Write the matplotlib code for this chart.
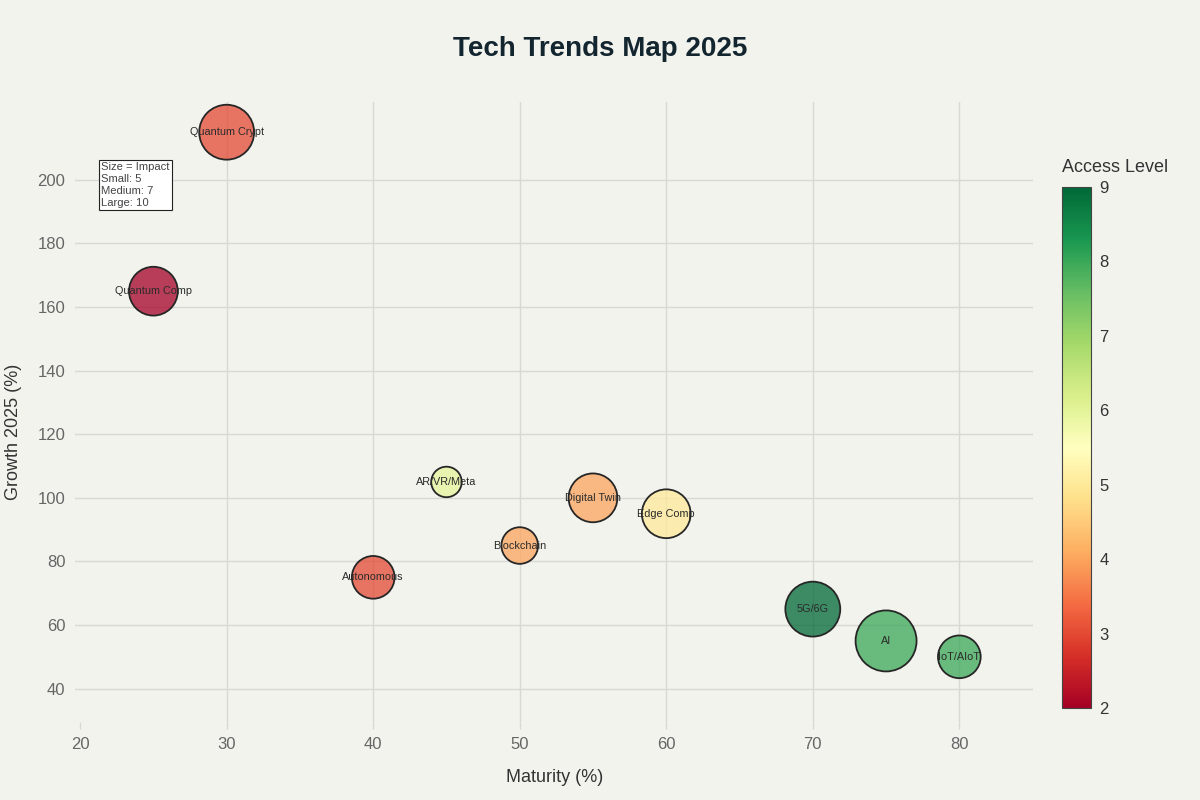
import matplotlib

matplotlib.use("Agg")
import matplotlib.pyplot as plt
from matplotlib import cm, colors as mcolors

# ── Data ──────────────────────────────────────────────────────
techs = ["Quantum Crypt", "Quantum Comp", "AR/VR/Meta", "Digital Twin", "Edge Comp",
         "Blockchain", "Autonomous", "5G/6G", "AI", "IoT/AIoT"]
maturity = [30, 25, 45, 55, 60, 50, 40, 70, 75, 80]
growth = [215, 165, 105, 100, 95, 85, 75, 65, 55, 50]
access = [3, 2, 6, 4, 5, 4, 3, 9, 8, 8]
impact = [9, 8, 5, 8, 8, 6, 7, 9, 10, 7]

# ── Styling ───────────────────────────────────────────────────
BG = "#f3f3ee"
GRID = "#d9d9d4"
TICK = "#666666"

plt.rcParams.update(
    {
        "font.family": ["Liberation Sans", "DejaVu Sans"],
        "figure.facecolor": BG,
        "axes.facecolor": BG,
    }
)

fig = plt.figure(figsize=(12, 8), dpi=100)
ax = fig.add_axes([0.0625, 0.0975, 0.798, 0.775])

norm = mcolors.Normalize(vmin=2, vmax=9)
cmap = plt.get_cmap("RdYlGn")

# translucent fill, solid outline
face = cmap(norm(access))
face[:, 3] = 0.75

# bubble diameter ~6.1 px per impact unit -> area in pt^2
sizes = [(6.1 * v * 0.72) ** 2 for v in impact]
ax.scatter(
    maturity, growth, s=sizes, facecolors=face,
    edgecolors="#262626", linewidths=1.3, zorder=3,
)
for name, x, y in zip(techs, maturity, growth):
    ax.text(x, y, name, ha="center", va="center", fontsize=7.8,
            color="#2a2a2a", zorder=4)

ax.set_xlim(19.65, 85)
ax.set_ylim(29.5, 224.5)
ax.set_xticks([20, 30, 40, 50, 60, 70, 80])
ax.set_yticks([40, 60, 80, 100, 120, 140, 160, 180, 200])
ax.grid(True, color=GRID, linewidth=1, zorder=0)
ax.xaxis.get_gridlines()[0].set_visible(False)
for s in ax.spines.values():
    s.set_visible(False)
ax.tick_params(axis="x", colors=GRID, labelcolor=TICK, labelsize=12, length=5, width=1, pad=6)
ax.tick_params(axis="y", colors=GRID, labelcolor=TICK, labelsize=12, length=0, pad=7)

fig.text(555 / 1200, 1 - 778 / 800, "Maturity (%)", ha="center", va="center",
         fontsize=13, color="#333333")
fig.text(14 / 1200, 1 - 432 / 800, "Growth 2025 (%)", ha="center", va="center",
         rotation=90, fontsize=13, color="#333333")

fig.text(0.5, 1 - 49 / 800, "Tech Trends Map 2025", ha="center", va="center",
         fontsize=20, fontweight="bold", color="#13252f")

# size legend box
ax.text(21.45, 205.6, "Size = Impact\nSmall: 5\nMedium: 7\nLarge: 10",
        ha="left", va="top", fontsize=8.1, color="#444444", linespacing=1.25,
        bbox=dict(boxstyle="square,pad=0.2", fc="white", ec="#222222", lw=0.8),
        zorder=5)

# colorbar
cax = fig.add_axes([1062 / 1200, 1 - 708 / 800, 29 / 1200, 521 / 800])
cb = fig.colorbar(cm.ScalarMappable(norm=norm, cmap=cmap), cax=cax)
cb.set_ticks([2, 3, 4, 5, 6, 7, 8, 9])
cb.outline.set_edgecolor("#444444")
cb.outline.set_linewidth(0.8)
cax.tick_params(length=0, labelsize=12, labelcolor="#333333", pad=6)
fig.text(1062 / 1200, 1 - 168 / 800, "Access Level", ha="left", va="center",
         fontsize=13, color="#333333")

fig.savefig("out.png", dpi=100, facecolor=fig.get_facecolor())
plt.close(fig)
